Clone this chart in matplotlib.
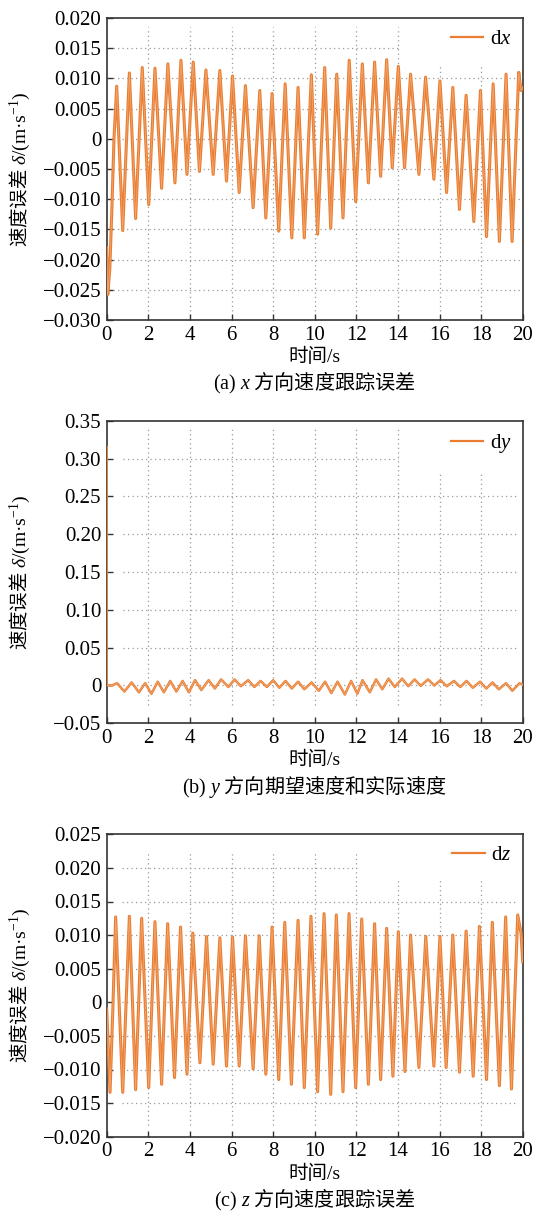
import matplotlib
matplotlib.use('Agg')
import matplotlib.pyplot as plt

# ---------------- data ----------------
dx_t = [0.00, 0.05, 0.15, 0.25, 0.35, 0.48, 0.77, 1.09, 1.39, 1.71, 2.02, 2.32, 2.64, 2.94, 3.28,
        3.57, 3.86, 4.16, 4.46, 4.77, 5.12, 5.44, 5.76, 6.05, 6.37, 6.67, 7.04, 7.36, 7.65, 7.95,
        8.27, 8.58, 8.90, 9.20, 9.50, 9.84, 10.14, 10.48, 10.77, 11.06, 11.36, 11.66, 11.97, 12.29,
        12.58, 12.88, 13.17, 13.46, 13.73, 14.02, 14.32, 14.61, 15.01, 15.33, 15.73, 16.02, 16.34,
        16.64, 16.96, 17.28, 17.65, 17.97, 18.26, 18.58, 18.88, 19.20, 19.49, 19.81, 19.92, 20.00]
dx_v = [-0.0180, -0.0258, -0.0215, -0.0115, 0.0000, 0.0087, -0.0152, 0.0109, -0.0132, 0.0118,
        -0.0109, 0.0117, -0.0082, 0.0124, -0.0073, 0.0130, -0.0059, 0.0127, -0.0054, 0.0114,
        -0.0059, 0.0113, -0.0070, 0.0104, -0.0089, 0.0088, -0.0114, 0.0080, -0.0131, 0.0075,
        -0.0153, 0.0091, -0.0164, 0.0085, -0.0164, 0.0106, -0.0158, 0.0118, -0.0148, 0.0107,
        -0.0131, 0.0130, -0.0104, 0.0124, -0.0073, 0.0127, -0.0062, 0.0131, -0.0048, 0.0120,
        -0.0048, 0.0107, -0.0059, 0.0102, -0.0067, 0.0096, -0.0089, 0.0085, -0.0117, 0.0072,
        -0.0137, 0.0080, -0.0162, 0.0091, -0.0170, 0.0107, -0.0170, 0.0110, 0.0080, 0.0085]

dy_t = [0.00, 0.00, 0.25, 0.50, 0.85, 1.20, 1.55, 1.85, 2.15, 2.45, 2.75, 3.05, 3.35, 3.65, 3.95,
        4.25, 4.55, 4.90, 5.20, 5.50, 5.85, 6.15, 6.45, 6.80, 7.10, 7.40, 7.70, 8.00, 8.30, 8.60,
        8.90, 9.20, 9.50, 9.85, 10.20, 10.50, 10.80, 11.10, 11.45, 11.75, 12.05, 12.30, 12.65,
        12.95, 13.25, 13.55, 13.85, 14.20, 14.50, 14.80, 15.10, 15.45, 15.75, 16.05, 16.35, 16.70,
        17.00, 17.30, 17.60, 17.95, 18.25, 18.55, 18.85, 19.20, 19.50, 19.85, 20.00]
dy_v = [0.315, 0.000, 0.000, 0.003, -0.008, 0.004, -0.009, 0.003, -0.011, 0.005, -0.009, 0.006,
        -0.008, 0.006, -0.009, 0.007, -0.006, 0.007, -0.004, 0.008, -0.002, 0.008, -0.001, 0.007,
        -0.002, 0.006, -0.002, 0.007, -0.003, 0.006, -0.004, 0.005, -0.005, 0.004, -0.007, 0.005,
        -0.010, 0.005, -0.012, 0.006, -0.011, 0.007, -0.009, 0.008, -0.005, 0.009, -0.002, 0.009,
        -0.001, 0.008, -0.0005, 0.008, 0.000, 0.007, -0.001, 0.006, -0.002, 0.006, -0.003, 0.005,
        -0.004, 0.004, -0.005, 0.003, -0.007, 0.003, 0.001]

dz_t = [0.00, 0.16, 0.29, 0.43, 0.77, 1.09, 1.39, 1.68, 2.02, 2.32, 2.64, 2.93, 3.26, 3.55, 3.86,
        4.14, 4.48, 4.80, 5.12, 5.44, 5.76, 6.05, 6.37, 6.67, 7.04, 7.33, 7.65, 7.95, 8.27, 8.56,
        8.88, 9.20, 9.50, 9.82, 10.14, 10.45, 10.77, 11.04, 11.36, 11.65, 11.97, 12.26, 12.58,
        12.88, 13.17, 13.46, 13.76, 14.02, 14.34, 14.61, 15.01, 15.34, 15.73, 16.02, 16.32, 16.64,
        16.96, 17.28, 17.62, 17.92, 18.26, 18.54, 18.88, 19.18, 19.46, 19.76, 19.92, 20.00]
dz_v = [-0.0010, -0.0134, -0.0015, 0.0127, -0.0134, 0.0128, -0.0130, 0.0125, -0.0127, 0.0120,
        -0.0122, 0.0117, -0.0112, 0.0112, -0.0107, 0.0103, -0.0090, 0.0098, -0.0092, 0.0096,
        -0.0095, 0.0097, -0.0095, 0.0099, -0.0099, 0.0099, -0.0107, 0.0112, -0.0115, 0.0119,
        -0.0122, 0.0122, -0.0127, 0.0128, -0.0133, 0.0132, -0.0137, 0.0130, -0.0133, 0.0132,
        -0.0127, 0.0124, -0.0122, 0.0117, -0.0115, 0.0110, -0.0110, 0.0105, -0.0103, 0.0100,
        -0.0097, 0.0098, -0.0095, 0.0098, -0.0097, 0.0100, -0.0104, 0.0106, -0.0110, 0.0113,
        -0.0115, 0.0119, -0.0124, 0.0127, -0.0129, 0.0130, 0.0103, 0.0060]

x_ticks = [0, 2, 4, 6, 8, 10, 12, 14, 16, 18, 20]
x_ticklabels = ['0', '2', '4', '6', '8', '10', '12', '14', '16', '18', '20']

y1_ticks = [0.020, 0.015, 0.010, 0.005, 0.0, -0.005, -0.010, -0.015, -0.020, -0.025, -0.030]
y1_labels = ['0.020', '0.015', '0.010', '0.005', '0', '\u22120.005', '\u22120.010',
             '\u22120.015', '\u22120.020', '\u22120.025', '\u22120.030']
y2_ticks = [0.35, 0.30, 0.25, 0.20, 0.15, 0.10, 0.05, 0.0, -0.05]
y2_labels = ['0.35', '0.30', '0.25', '0.20', '0.15', '0.10', '0.05', '0', '\u22120.05']
y3_ticks = [0.025, 0.020, 0.015, 0.010, 0.005, 0.0, -0.005, -0.010, -0.015, -0.020]
y3_labels = ['0.025', '0.020', '0.015', '0.010', '0.005', '0', '\u22120.005', '\u22120.010',
             '\u22120.015', '\u22120.020']

legend_labels = ['d$x$', 'd$y$', 'd$z$']
captions = [r'$\mathrm{(a)}\ x$ 方向速度跟踪误差',
            r'$\mathrm{(b)}\ y$ 方向期望速度和实际速度',
            r'$\mathrm{(c)}\ z$ 方向速度跟踪误差']
ylabel_text = r'速度误差 $\delta/(\mathrm{m·s^{-1}})$'
xlabel_text = '时间/s'

# ---------------- style ----------------
plt.rcParams['font.family'] = ['Liberation Serif', 'Noto Sans CJK SC', 'DejaVu Sans']
plt.rcParams['mathtext.fontset'] = 'custom'
plt.rcParams['mathtext.rm'] = 'Liberation Serif'
plt.rcParams['mathtext.it'] = 'Liberation Serif:italic'
plt.rcParams['mathtext.bf'] = 'Liberation Serif:bold'
plt.rcParams['axes.unicode_minus'] = True

LINE = '#E97D32'
LIGHT = '#F4B07A'
GRID = '#9a9a9a'
SPINE = '#333333'
CJK = ['Noto Sans CJK SC', 'DejaVu Sans']

W, H = 533, 1218
fig = plt.figure(figsize=(W / 100, H / 100), dpi=100)

def frac_box(left_px, top_px, right_px, bottom_px):
    return [left_px / W, 1 - bottom_px / H, (right_px - left_px) / W, (bottom_px - top_px) / H]

boxes = [frac_box(106.7, 18.0, 522.7, 320.0),
         frac_box(106.7, 420.7, 522.7, 723.3),
         frac_box(106.7, 834.3, 522.7, 1136.7)]

series = [(dx_t, dx_v), (dy_t, dy_v), (dz_t, dz_v)]
yticks = [(y1_ticks, y1_labels), (y2_ticks, y2_labels), (y3_ticks, y3_labels)]
ylims = [(-0.030, 0.020), (-0.05, 0.35), (-0.020, 0.025)]

grid_cfg = [
    dict(vtop=0.0185, vbot=-0.0285, vtop_late=0.0120, late_from=16, hl=0.3, hr=19.85, top_r=14.0,
         hys=[0.015, 0.010, 0.005, 0.0, -0.005, -0.010, -0.015, -0.020, -0.025]),
    dict(vtop=0.342, vbot=-0.026, vtop_late=0.283, late_from=16, hl=0.8, hr=19.7, top_r=14.0,
         hys=[0.30, 0.25, 0.20, 0.15, 0.10, 0.05, 0.0]),
    dict(vtop=0.0224, vbot=-0.0183, vtop_late=0.0182, late_from=14, hl=0.75, hr=19.7, top_r=11.9,
         hys=[0.020, 0.015, 0.010, 0.005, 0.0, -0.005, -0.010, -0.015]),
]

cap_y_px = [383, 786, 1200]

for i in range(3):
    ax = fig.add_axes(boxes[i])
    cfg = grid_cfg[i]
    for xv in x_ticks[1:-1]:
        top = cfg['vtop'] if xv < cfg['late_from'] else cfg['vtop_late']
        ax.vlines(xv, cfg['vbot'], top, colors=GRID, linestyles=(0, (1, 2.6)), linewidth=0.9, zorder=1)
    for j, yv in enumerate(cfg['hys']):
        right = cfg['top_r'] if j == 0 else cfg['hr']
        ax.hlines(yv, cfg['hl'], right, colors=GRID, linestyles=(0, (1, 2.6)), linewidth=0.9, zorder=1)

    t, v = series[i]
    lw = 2.2 if i != 1 else 1.8
    ax.plot(t, v, color=LINE, linewidth=lw, solid_joinstyle='round', zorder=3, label=legend_labels[i])
    ax.plot(t, v, color=LIGHT, linewidth=0.6, solid_joinstyle='round', zorder=4, alpha=0.8)

    ax.set_xlim(0, 20)
    ax.set_ylim(*ylims[i])
    ax.set_xticks(x_ticks)
    ax.set_xticklabels(x_ticklabels)
    ax.set_yticks(yticks[i][0])
    ax.set_yticklabels(yticks[i][1])
    ax.tick_params(direction='in', length=4, width=1.0, color=SPINE, labelsize=15,
                   top=False, right=False, pad=4)
    for s in ax.spines.values():
        s.set_color(SPINE)
        s.set_linewidth(1.2)

    ax.set_ylabel(ylabel_text, fontsize=14, family=CJK, va='center')
    ax.yaxis.set_label_coords(-0.209, 0.5)
    ax.set_xlabel(xlabel_text, fontsize=14, va='center')
    ax.xaxis.set_label_coords(0.5, -0.1225)

    leg = ax.legend(loc='upper right', frameon=False, fontsize=15, handlelength=1.55,
                    handletextpad=0.3, borderaxespad=0.15)
    for h in leg.get_lines():
        h.set_linewidth(1.6)

    fig.text((106.7 + 522.7) / 2 / W, 1 - cap_y_px[i] / H, captions[i], fontsize=14.5,
             family=CJK, ha='center', va='center')

fig.savefig('out.png', dpi=100)
